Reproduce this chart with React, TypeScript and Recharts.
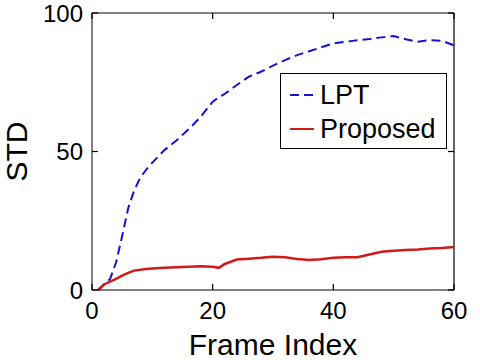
import { Line, LineChart, ReferenceLine, XAxis, YAxis } from 'recharts';

const frames = [1, 2, 3, 4, 5, 6, 7, 8, 9, 10, 12, 14, 16, 18, 20, 21, 22, 24, 26, 28, 30, 32, 34, 36, 38, 40, 42, 44, 46, 48, 50, 52, 54, 56, 58, 60];
const lptStd = [0, 2, 4, 10, 19.5, 29.5, 36, 40.5, 43.5, 46, 50.5, 54, 58, 62.5, 68, 69.5, 70.8, 74, 77, 78.8, 81, 83, 84.8, 86.2, 87.6, 89, 89.6, 90.2, 90.6, 91.2, 91.7, 90.5, 89.6, 90.2, 90, 88.3];
const proposedStd = [0, 2, 3, 4, 5.2, 6.2, 7, 7.3, 7.6, 7.8, 8, 8.2, 8.4, 8.6, 8.4, 8, 9.4, 11, 11.3, 11.6, 12, 11.8, 11.2, 10.8, 11.1, 11.6, 11.8, 11.8, 12.8, 13.8, 14.2, 14.4, 14.6, 15, 15.2, 15.5];
const xTicks = [0, 20, 40, 60];
const yTicks = [0, 50, 100];

const seriesKeys = ['lpt', 'proposed'];
const seriesNames = ['LPT', 'Proposed'];
const seriesColors = ['#1414cc', '#d01a1a'];
const seriesDashes = ['9 5', undefined];
const seriesWidths = [2, 2.5];

const data = frames.map((frame, i) => ({ frame, lpt: lptStd[i], proposed: proposedStd[i] }));

const font = '"Liberation Sans", Arial, Helvetica, sans-serif';
const TICK = 6;
const tickStyle = { fill: '#000', fontSize: 24, fontFamily: font };

// matlab style inward ticks at both ends of each tick position
const vTicks = ({ x1, y1, x2, y2 }: any) => {
  const top = Math.min(y1, y2);
  const bottom = Math.max(y1, y2);
  return (
    <g>
      <line x1={x1} x2={x2} y1={top} y2={top + TICK} stroke="#000" strokeWidth={1.2} />
      <line x1={x1} x2={x2} y1={bottom} y2={bottom - TICK} stroke="#000" strokeWidth={1.2} />
    </g>
  );
};

const hTicks = ({ x1, y1, x2, y2 }: any) => {
  const left = Math.min(x1, x2);
  const right = Math.max(x1, x2);
  return (
    <g>
      <line x1={left} x2={left + TICK} y1={y1} y2={y2} stroke="#000" strokeWidth={1.2} />
      <line x1={right} x2={right - TICK} y1={y1} y2={y2} stroke="#000" strokeWidth={1.2} />
    </g>
  );
};

const LegendBox = () => (
  <div
    style={{
      position: 'absolute',
      left: 280,
      top: 73,
      width: 167,
      height: 76,
      border: '1px solid #000',
      background: '#fff',
      fontFamily: font,
      fontSize: 27,
      color: '#000',
      boxSizing: 'border-box',
      paddingTop: 4,
    }}
  >
    {seriesNames.map((name, i) => (
      <div key={name} style={{ display: 'flex', alignItems: 'center', height: 34 }}>
        <svg width={30} height={10} style={{ marginLeft: 9 }}>
          <line x1={0} x2={24} y1={5} y2={5} stroke={seriesColors[i]} strokeWidth={2} strokeDasharray={seriesDashes[i]} />
        </svg>
        <span style={{ lineHeight: '34px' }}>{name}</span>
      </div>
    ))}
  </div>
);

export default function App() {
  return (
    <div style={{ position: 'absolute', left: 0, top: 0, width: 480, height: 360, background: '#fff' }}>
      <LineChart width={480} height={360} data={data} margin={{ top: 13, right: 26, left: 0, bottom: 0 }}>
        <XAxis
          dataKey="frame"
          type="number"
          domain={[0, 60]}
          ticks={xTicks}
          tick={tickStyle}
          tickLine={false}
          tickSize={0}
          tickMargin={12}
          height={70}
          stroke="#000"
          label={{ value: 'Frame Index', position: 'insideBottom', offset: 5, fill: '#000', fontSize: 30, fontFamily: font }}
        />
        <YAxis
          type="number"
          domain={[0, 100]}
          ticks={yTicks}
          tick={tickStyle}
          tickLine={false}
          tickSize={0}
          tickMargin={9}
          width={92}
          stroke="#000"
          label={{
            content: ({ viewBox }: any) => {
              const cx = viewBox.x + 16;
              const cy = viewBox.y + viewBox.height / 2;
              return (
                <text
                  x={cx}
                  y={cy}
                  transform={`rotate(-90, ${cx}, ${cy})`}
                  textAnchor="middle"
                  dominantBaseline="central"
                  fill="#000"
                  fontSize={30}
                  fontFamily={font}
                >
                  STD
                </text>
              );
            },
          }}
        />
        <ReferenceLine y={100} stroke="#000" strokeWidth={1.2} />
        <ReferenceLine x={60} stroke="#000" strokeWidth={1.2} />
        {xTicks.map((t) => (
          <ReferenceLine key={`x${t}`} x={t} shape={(p: any) => vTicks(p)} />
        ))}
        {yTicks.map((t) => (
          <ReferenceLine key={`y${t}`} y={t} shape={(p: any) => hTicks(p)} />
        ))}
        {seriesKeys.map((key, i) => (
          <Line
            key={key}
            dataKey={key}
            name={seriesNames[i]}
            stroke={seriesColors[i]}
            strokeWidth={seriesWidths[i]}
            strokeDasharray={seriesDashes[i]}
            dot={false}
            isAnimationActive={false}
          />
        ))}
      </LineChart>
      <LegendBox />
    </div>
  );
}
